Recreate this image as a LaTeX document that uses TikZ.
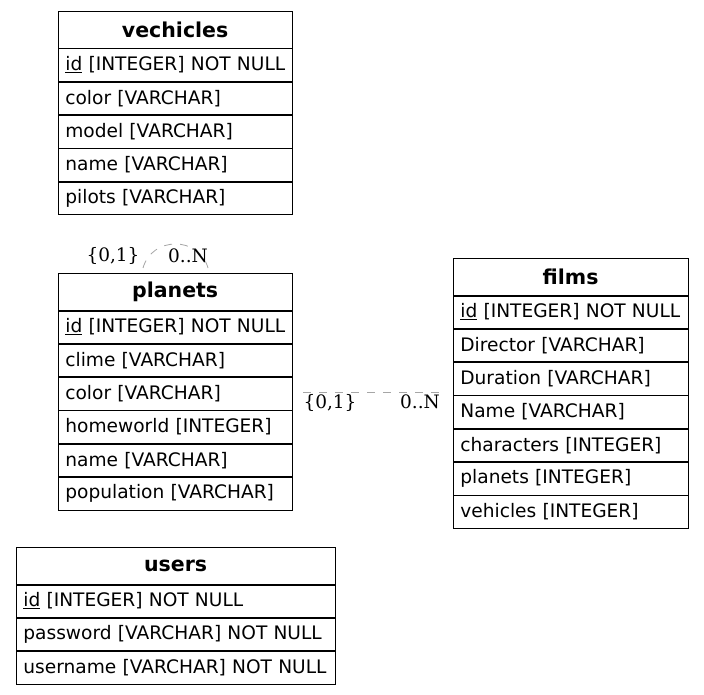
\documentclass[tikz,border=0pt]{standalone}
\usepackage{fontspec}
\setmainfont{DejaVu Sans}
\newfontfamily\cardfont{DejaVu Serif}
\usepackage{tikz}
\usetikzlibrary{positioning}

\begin{document}
\begin{tikzpicture}[x=1pt, y=-1pt,
  tablehead/.style={draw, line width=0.75pt, anchor=north west, inner xsep=7pt, inner ysep=0pt, minimum height=36.75pt, align=center, font=\fontsize{20.5}{22}\selectfont\bfseries},
  tablerow/.style={draw, line width=0.75pt, inner xsep=7pt, inner ysep=0pt, minimum height=32.55pt, align=left, font=\fontsize{18.6}{20}\selectfont},
  relline/.style={gray!70, dashed, dash pattern=on 8pt off 8pt, line width=0.8pt},
  cardlabel/.style={inner sep=0pt, font=\cardfont\fontsize{18.5}{20}\selectfont}]
  \useasboundingbox (0,0) rectangle (704,695);
  \node[tablehead, text width=219.5pt] (vech-h) at (58,11) {vechicles};
  \node[tablerow, text width=219.5pt, below=0pt of vech-h] (vech-1) {\mbox{\underline{id} [INTEGER] NOT NULL}};
  \node[tablerow, text width=219.5pt, below=0pt of vech-1] (vech-2) {color [VARCHAR]};
  \node[tablerow, text width=219.5pt, below=0pt of vech-2] (vech-3) {model [VARCHAR]};
  \node[tablerow, text width=219.5pt, below=0pt of vech-3] (vech-4) {name [VARCHAR]};
  \node[tablerow, text width=219.5pt, below=0pt of vech-4] (vech-5) {pilots [VARCHAR]};
  \node[tablehead, text width=219.5pt] (plan-h) at (58,273) {planets};
  \node[tablerow, text width=219.5pt, below=0pt of plan-h] (plan-1) {\mbox{\underline{id} [INTEGER] NOT NULL}};
  \node[tablerow, text width=219.5pt, below=0pt of plan-1] (plan-2) {clime [VARCHAR]};
  \node[tablerow, text width=219.5pt, below=0pt of plan-2] (plan-3) {color [VARCHAR]};
  \node[tablerow, text width=219.5pt, below=0pt of plan-3] (plan-4) {homeworld [INTEGER]};
  \node[tablerow, text width=219.5pt, below=0pt of plan-4] (plan-5) {name [VARCHAR]};
  \node[tablerow, text width=219.5pt, below=0pt of plan-5] (plan-6) {population [VARCHAR]};
  \node[tablehead, text width=220.5pt] (film-h) at (453,258) {films};
  \node[tablerow, text width=220.5pt, below=0pt of film-h] (film-1) {\mbox{\underline{id} [INTEGER] NOT NULL}};
  \node[tablerow, text width=220.5pt, below=0pt of film-1] (film-2) {Director [VARCHAR]};
  \node[tablerow, text width=220.5pt, below=0pt of film-2] (film-3) {Duration [VARCHAR]};
  \node[tablerow, text width=220.5pt, below=0pt of film-3] (film-4) {Name [VARCHAR]};
  \node[tablerow, text width=220.5pt, below=0pt of film-4] (film-5) {characters [INTEGER]};
  \node[tablerow, text width=220.5pt, below=0pt of film-5] (film-6) {planets [INTEGER]};
  \node[tablerow, text width=220.5pt, below=0pt of film-6] (film-7) {vehicles [INTEGER]};
  \node[tablehead, text width=304.5pt] (user-h) at (16,547) {users};
  \node[tablerow, text width=304.5pt, below=0pt of user-h] (user-1) {\mbox{\underline{id} [INTEGER] NOT NULL}};
  \node[tablerow, text width=304.5pt, below=0pt of user-1] (user-2) {\mbox{password [VARCHAR] NOT NULL}};
  \node[tablerow, text width=304.5pt, below=0pt of user-2] (user-3) {\mbox{username [VARCHAR] NOT NULL}};
  \coordinate (loop-a) at (143,268);
  \coordinate (loop-b) at (208,268);
  \draw[relline] (loop-a) .. controls (152,236) and (199,236) .. (loop-b);
  \node[cardlabel] (loop-from) at (113,256) {\{0,1\}};
  \node[cardlabel] (loop-to) at (188,256) {0..N};
  \coordinate (rel-a) at (303,392);
  \coordinate (rel-b) at (440,392);
  \draw[relline] (rel-a) -- (rel-b);
  \node[cardlabel] (rel-from) at (330,403) {\{0,1\}};
  \node[cardlabel] (rel-to) at (420,402) {0..N};
\end{tikzpicture}
\end{document}
